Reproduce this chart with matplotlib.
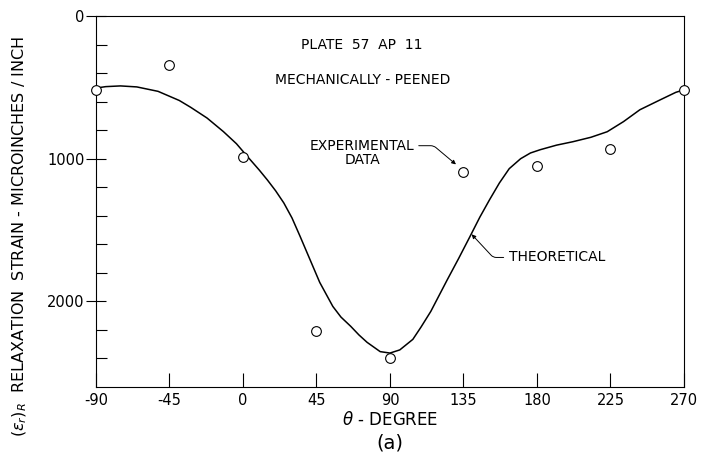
import matplotlib.pyplot as plt
import numpy as np

# experimental data (degrees, microinches/inch)
exp_theta = [-90, -45, 0, 45, 90, 135, 180, 225, 270]
exp_strain = [520, 340, 990, 2210, 2400, 1090, 1050, 930, 520]

# theoretical curve
theo_theta = [-90, -84, -75, -65, -52, -39, -32, -22, -12, -4, 2, 10, 15, 20, 25,
              30, 35, 41, 47, 55, 60, 66, 71, 76, 84, 90, 96, 104, 109, 115, 120,
              125, 132, 139, 145, 151, 157, 163, 170, 176, 182, 192, 202, 213,
              223, 233, 243, 255, 265, 270]
theo_strain = [505, 495, 490, 497, 528, 592, 640, 715, 810, 895, 975, 1080, 1150,
               1225, 1310, 1415, 1545, 1706, 1867, 2035, 2110, 2175, 2235, 2287,
               2352, 2362, 2340, 2266, 2180, 2070, 1960, 1850, 1700, 1545, 1410,
               1287, 1170, 1070, 1000, 960, 937, 905, 881, 850, 811, 740, 657,
               590, 535, 517]

xticks = [-90, -45, 0, 45, 90, 135, 180, 225, 270]

plt.rcParams['font.family'] = 'DejaVu Sans'
fig = plt.figure(figsize=(7.13, 4.69), dpi=100)
ax = fig.add_axes([0.1346, 0.1748, 0.8247, 0.7911])

ax.plot(theo_theta, theo_strain, color='black', lw=1.1)
ax.plot(exp_theta, exp_strain, 'o', mfc='white', mec='black', ms=7, mew=0.8,
        clip_on=False, zorder=5)

ax.set_xlim(-90, 270)
ax.set_ylim(2600, 0)
ax.set_xticks(xticks)
ax.set_xticklabels([str(t) for t in xticks])
ax.set_yticks([0, 1000, 2000])
ax.set_yticks(np.arange(0, 2600, 200), minor=True)
ax.tick_params(axis='x', direction='in', length=10, width=0.8, labelsize=10.5, pad=4)
ax.tick_params(axis='y', which='major', direction='inout', length=14, width=0.8,
               labelsize=10.5, pad=1)
ax.tick_params(axis='y', which='minor', direction='in', length=8, width=0.8)
for s in ax.spines.values():
    s.set_linewidth(0.8)

ax.text(73, 200, 'PLATE  57  AP  11', ha='center', va='center', fontsize=10)
ax.text(73, 450, 'MECHANICALLY - PEENED', ha='center', va='center', fontsize=10)

ax.annotate('EXPERIMENTAL\nDATA', xy=(133, 1065), xytext=(73, 958),
            ha='center', va='center', fontsize=10, linespacing=1.0,
            arrowprops=dict(arrowstyle='-|>', color='black', lw=0.7,
                            mutation_scale=6, shrinkA=1, shrinkB=4,
                            connectionstyle='angle,angleA=0,angleB=140,rad=3',
                            relpos=(1.0, 0.75)))
ax.annotate('THEORETICAL', xy=(140, 1530), xytext=(163, 1692),
            ha='left', va='center', fontsize=10,
            arrowprops=dict(arrowstyle='-|>', color='black', lw=0.7,
                            mutation_scale=6, shrinkA=2, shrinkB=0,
                            connectionstyle='angle,angleA=180,angleB=-47,rad=3',
                            relpos=(0.0, 0.5)))

fig.text(0.547, 1 - 420 / 469, r'$\theta$ - DEGREE', ha='center', va='center',
         fontsize=12)
fig.text(0.547, 1 - 443 / 469, '(a)', ha='center', va='center', fontsize=14)
fig.text(0.028, 1 - 36 / 469,
         r'$(\epsilon_r)_R$  RELAXATION  STRAIN - MICROINCHES / INCH',
         rotation=90, ha='center', va='top', fontsize=11.5)

fig.savefig('out.png', dpi=100)
